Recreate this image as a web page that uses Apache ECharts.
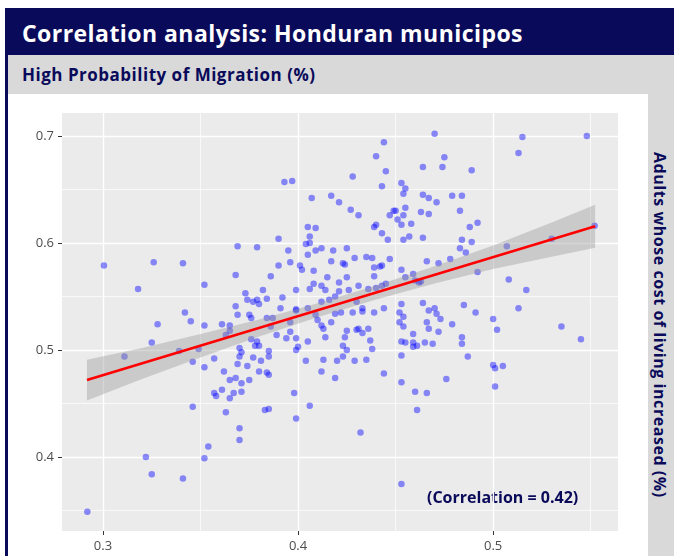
<!DOCTYPE html>
<html>
<head>
<meta charset="utf-8">
<script src="https://cdn.jsdelivr.net/npm/echarts@6.0.0/dist/echarts.min.js"></script>
<style>
  body { margin: 0; width: 674px; height: 556px; overflow: hidden; background: #fff; position: relative; font-family: "Open Sans", Roboto, sans-serif; }
  .title { position: absolute; left: 5px; top: 8px; width: 652px; height: 47px; padding-left: 17px; background: #0a0a5a; color: #fff; font-weight: bold; font-size: 23px; letter-spacing: 0.45px; line-height: 50px; white-space: nowrap; }
  .sub { position: absolute; left: 8px; top: 55px; width: 652px; height: 39px; padding-left: 14px; background: #d9d9d9; color: #0a0a5a; font-weight: bold; font-size: 17px; letter-spacing: 0.5px; line-height: 40px; white-space: nowrap; }
  .leftbar { position: absolute; left: 5px; top: 55px; width: 3px; height: 501px; background: #0a0a5a; }
  .side { position: absolute; left: 648px; top: 94px; width: 26px; height: 462px; background: #d9d9d9; color: #0a0a5a; font-weight: bold; font-size: 16px; letter-spacing: 0.55px; writing-mode: vertical-rl; text-align: center; line-height: 28px; white-space: nowrap; }
  #chart { position: absolute; left: 8px; top: 94px; width: 640px; height: 462px; }
</style>
</head>
<body>
<div class="title">Correlation analysis: Honduran municipos</div>
<div class="sub">High Probability of Migration (%)</div>
<div class="leftbar"></div>
<div class="side">Adults whose cost of living increased (%)</div>
<div id="chart"></div>
<script>
// tick labels
const xTicks = [0.3, 0.4, 0.5]
const xMinor = [0.35, 0.45, 0.55]
const yTicks = [0.4, 0.5, 0.6, 0.7]
const yMinor = [0.35, 0.45, 0.55, 0.65]

// one point per municipio: [cost of living increased, high probability of migration]
const municipios = [
  [0.393,0.657],[0.397,0.658],[0.428,0.662],[0.407,0.642],[0.417,0.644],[0.421,0.638],[0.427,0.631],[0.431,0.626],
  [0.405,0.615],[0.409,0.614],[0.406,0.606],[0.404,0.599],[0.406,0.600],[0.390,0.604],[0.395,0.593],[0.405,0.589],
  [0.409,0.593],[0.412,0.595],[0.418,0.593],[0.425,0.595],[0.429,0.586],[0.369,0.597],[0.379,0.596],[0.3005,0.579],
  [0.326,0.582],[0.341,0.581],[0.318,0.557],[0.352,0.561],[0.368,0.570],[0.390,0.579],[0.396,0.582],[0.401,0.579],
  [0.402,0.575],[0.408,0.574],[0.417,0.583],[0.423,0.581],[0.424,0.580],[0.386,0.569],[0.415,0.568],[0.421,0.563],
  [0.425,0.568],[0.408,0.562],[0.399,0.556],[0.406,0.557],[0.412,0.560],[0.414,0.556],[0.421,0.555],[0.426,0.556],
  [0.373,0.553],[0.382,0.556],[0.374,0.547],[0.377,0.545],[0.379,0.547],[0.380,0.543],[0.384,0.548],[0.392,0.549],
  [0.368,0.541],[0.369,0.533],[0.375,0.533],[0.376,0.530],[0.342,0.535],[0.345,0.527],[0.328,0.524],[0.352,0.523],
  [0.361,0.524],[0.365,0.523],[0.384,0.530],[0.387,0.530],[0.391,0.539],[0.396,0.526],[0.399,0.537],[0.399,0.538],
  [0.405,0.539],[0.409,0.533],[0.410,0.528],[0.412,0.545],[0.416,0.547],[0.419,0.550],[0.419,0.534],[0.422,0.535],
  [0.417,0.526],[0.428,0.535],[0.431,0.560],[0.430,0.545],
  [0.470,0.702],[0.515,0.699],[0.548,0.700],[0.513,0.684],[0.444,0.694],[0.440,0.681],[0.445,0.667],[0.464,0.671],
  [0.475,0.680],[0.474,0.671],[0.489,0.668],[0.443,0.653],[0.453,0.656],[0.455,0.651],[0.454,0.646],[0.464,0.645],
  [0.467,0.642],[0.471,0.638],[0.479,0.644],[0.484,0.644],[0.449,0.630],[0.450,0.630],[0.455,0.633],[0.454,0.626],
  [0.451,0.622],[0.453,0.617],[0.447,0.626],[0.458,0.618],[0.463,0.629],[0.467,0.627],[0.483,0.630],[0.439,0.615],
  [0.440,0.617],[0.443,0.609],[0.446,0.603],[0.454,0.603],[0.457,0.606],[0.464,0.605],[0.488,0.615],[0.492,0.619],
  [0.484,0.603],[0.489,0.601],[0.483,0.595],[0.486,0.591],[0.435,0.587],[0.438,0.586],[0.447,0.585],[0.439,0.577],
  [0.442,0.578],[0.443,0.579],[0.439,0.569],[0.453,0.575],[0.466,0.583],[0.472,0.581],[0.478,0.585],[0.436,0.557],
  [0.440,0.558],[0.443,0.560],[0.445,0.562],[0.455,0.568],[0.459,0.571],[0.460,0.565],[0.462,0.563],[0.463,0.564],
  [0.492,0.573],[0.507,0.597],[0.530,0.604],[0.552,0.616],[0.508,0.566],[0.517,0.556],[0.513,0.539],[0.500,0.529],
  [0.535,0.522],[0.453,0.543],[0.464,0.544],[0.467,0.537],[0.470,0.539],[0.471,0.534],[0.473,0.529],[0.479,0.524],
  [0.485,0.542],[0.491,0.535],[0.433,0.539],[0.433,0.536],[0.439,0.535],[0.444,0.539],[0.452,0.535],[0.454,0.531],
  [0.452,0.526],
  [0.502,0.519],[0.545,0.510],[0.484,0.512],[0.484,0.506],[0.487,0.494],[0.500,0.486],[0.501,0.483],[0.505,0.485],
  [0.501,0.466],[0.476,0.473],[0.460,0.461],[0.466,0.460],[0.461,0.444],[0.453,0.470],[0.453,0.495],[0.444,0.478],
  [0.432,0.423],[0.453,0.375],[0.472,0.517],[0.465,0.507],[0.469,0.506],[0.459,0.507],[0.459,0.503],[0.461,0.504],
  [0.453,0.508],[0.455,0.507],[0.459,0.515],[0.467,0.520],[0.466,0.526],[0.454,0.522],[0.437,0.509],[0.438,0.501],
  [0.436,0.520],[0.431,0.520],[0.433,0.516],[0.425,0.518],[0.424,0.512],[0.423,0.504],[0.425,0.500],[0.423,0.494],
  [0.429,0.490],[0.435,0.491],[0.420,0.490],[0.419,0.474],
  [0.325,0.507],[0.311,0.494],[0.339,0.499],[0.349,0.501],[0.346,0.489],[0.352,0.484],[0.357,0.492],[0.362,0.480],
  [0.365,0.472],[0.368,0.474],[0.371,0.469],[0.361,0.463],[0.357,0.460],[0.358,0.457],[0.367,0.460],[0.365,0.455],
  [0.371,0.461],[0.363,0.442],[0.346,0.447],[0.370,0.502],[0.371,0.498],[0.370,0.494],[0.369,0.487],[0.374,0.485],
  [0.375,0.472],[0.376,0.510],[0.379,0.508],[0.378,0.504],[0.380,0.504],[0.377,0.493],[0.381,0.490],[0.385,0.499],
  [0.385,0.494],[0.380,0.480],[0.384,0.479],[0.385,0.477],[0.383,0.444],[0.385,0.445],[0.389,0.514],[0.396,0.517],
  [0.394,0.511],[0.399,0.511],[0.400,0.503],[0.399,0.500],[0.405,0.508],[0.404,0.490],[0.398,0.460],[0.406,0.448],
  [0.399,0.436],[0.412,0.480],[0.413,0.491],[0.412,0.523],[0.413,0.520],[0.414,0.512],[0.430,0.519],[0.370,0.427],
  [0.370,0.416],[0.354,0.410],[0.352,0.399],[0.322,0.400],[0.325,0.384],[0.341,0.380],[0.292,0.349],[0.386,0.522],
  [0.363,0.514],[0.365,0.518]
]

// fitted line and its confidence band
const fitX = [0.2918, 0.5523]
const fitY = [0.472, 0.6156]
const bandX = [0.2918, 0.32, 0.35, 0.38, 0.41, 0.44, 0.47, 0.50, 0.53, 0.5523]
const bandLow = [0.453, 0.473, 0.493, 0.5126, 0.5306, 0.5472, 0.5622, 0.5757, 0.5872, 0.5956]
const bandHigh = [0.491, 0.502, 0.515, 0.5286, 0.5436, 0.5602, 0.5782, 0.5977, 0.6192, 0.6356]

const navy = '#0a0a5a'

const chart = echarts.init(document.getElementById('chart'))

const option = {
    animation: false,
    grid: {
        left: 54,
        top: 19,
        width: 556,
        height: 418,
        show: true,
        backgroundColor: '#ebebeb',
        borderWidth: 0,
    },
    xAxis: [
        {
            type: 'value',
            min: 0.279,
            max: 0.564,
            axisLine: { show: false },
            axisTick: { customValues: xTicks, length: 4, lineStyle: { color: '#333' } },
            axisLabel: { customValues: xTicks, color: '#4d4d4d', fontSize: 13, margin: 9, fontFamily: 'Open Sans' },
            splitLine: { show: true, lineStyle: { color: '#fff', width: 1.4 } },
        },
        {
            type: 'value',
            min: 0.279,
            max: 0.564,
            position: 'bottom',
            axisLine: { show: false },
            axisTick: { show: false, customValues: xMinor },
            axisLabel: { show: false },
            splitLine: { show: true, lineStyle: { color: '#fff', width: 0.7 } },
        },
    ],
    yAxis: [
        {
            type: 'value',
            min: 0.331,
            max: 0.7214,
            axisLine: { show: false },
            axisTick: { customValues: yTicks, length: 4, lineStyle: { color: '#333' } },
            axisLabel: { customValues: yTicks, color: '#4d4d4d', fontSize: 13, margin: 8, fontFamily: 'Open Sans' },
            splitLine: { show: true, lineStyle: { color: '#fff', width: 1.4 } },
        },
        {
            type: 'value',
            min: 0.331,
            max: 0.7214,
            position: 'left',
            axisLine: { show: false },
            axisTick: { show: false, customValues: yMinor },
            axisLabel: { show: false },
            splitLine: { show: true, lineStyle: { color: '#fff', width: 0.7 } },
        },
    ],
    series: [
        {
            type: 'scatter',
            data: municipios,
            symbolSize: 6.5,
            itemStyle: { color: 'rgba(0,0,255,0.55)' },
            z: 2,
        },
        {
            // confidence band
            type: 'custom',
            data: [[bandX[0], bandLow[0]]],
            z: 3,
            renderItem: (params, api) => {
                const pts = []
                bandX.forEach((x, i) => pts.push(api.coord([x, bandHigh[i]])))
                for (let i = bandX.length - 1; i >= 0; i--) {
                    pts.push(api.coord([bandX[i], bandLow[i]]))
                }
                return {
                    type: 'polygon',
                    shape: { points: pts },
                    style: { fill: 'rgba(153,153,153,0.4)' },
                }
            },
        },
        {
            type: 'line',
            data: fitX.map((x, i) => [x, fitY[i]]),
            showSymbol: false,
            lineStyle: { color: '#ff0000', width: 2.5 },
            z: 4,
        },
    ],
    graphic: [
        {
            type: 'text',
            left: 419,
            top: 396,
            style: {
                text: '(Correlation = 0.42)',
                font: 'bold 16px "Open Sans"',
                fill: navy,
            },
        },
    ],
}

chart.setOption(option)
</script>
</body>
</html>
